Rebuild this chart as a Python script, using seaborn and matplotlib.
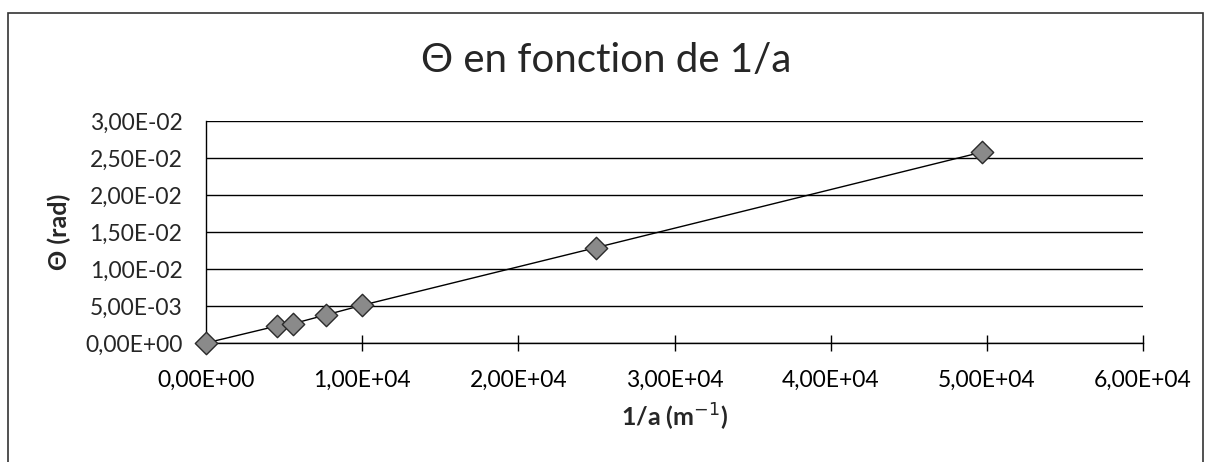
import matplotlib
matplotlib.use("Agg")
import matplotlib.pyplot as plt
from matplotlib.ticker import FuncFormatter
from matplotlib.patches import Rectangle
import seaborn as sns
import pandas as pd

# data
inv_a = [0, 4545, 5556, 7692, 10000, 25000, 49700]          # 1/a (m-1)
theta = [0, 2.3e-3, 2.6e-3, 3.8e-3, 5.1e-3, 1.29e-2, 2.58e-2]  # Theta (rad)
x_ticks = [0, 1e4, 2e4, 3e4, 4e4, 5e4, 6e4]
y_ticks = [0, 5e-3, 1e-2, 1.5e-2, 2e-2, 2.5e-2, 3e-2]

df = pd.DataFrame({"inv_a": inv_a, "theta": theta})

sns.set_style("white")
plt.rcParams['font.family'] = ['Lato', 'DejaVu Sans']

fig = plt.figure(figsize=(12.08, 4.62), dpi=100)
ax = fig.add_axes([206 / 1208, 1 - 343 / 462, (1143 - 206) / 1208, (343 - 121) / 462])

sns.lineplot(data=df, x="inv_a", y="theta", ax=ax, color="black", lw=1.0, sort=False)
sns.scatterplot(data=df, x="inv_a", y="theta", ax=ax, marker="D", s=130,
                color="#8a8a8a", edgecolor="#2a2a2a", linewidth=1.0, zorder=5)
for c in ax.collections:
    c.set_clip_on(False)

ax.set_xlim(0, 6e4)
ax.set_ylim(0, 3e-2)
ax.set_xticks(x_ticks)
ax.set_yticks(y_ticks)
fmt = FuncFormatter(lambda v, p: f"{v:.2E}".replace(".", ","))
ax.xaxis.set_major_formatter(fmt)
ax.yaxis.set_major_formatter(fmt)
ax.grid(axis="y", color="black", lw=1.0)
ax.set_axisbelow(True)
for s in ["top", "right"]:
    ax.spines[s].set_visible(False)
for s in ["left", "bottom"]:
    ax.spines[s].set_color("black")
    ax.spines[s].set_linewidth(1.0)
ax.tick_params(axis="x", direction="inout", length=12, width=1, colors="black",
               labelsize=16.5, pad=13, bottom=True)
ax.tick_params(axis="y", length=0, labelsize=16.5, pad=17, left=False)

ax.set_xlabel("1/a (m$^{-1}$)", fontsize=18, fontweight="bold", labelpad=8)
ax.set_ylabel("Θ (rad)", fontsize=18, fontweight="bold", labelpad=10)

fig.text(0.502, 1 - 60 / 462, "Θ en fonction de 1/a", ha="center", va="center", fontsize=29)

fig.patches.append(Rectangle((8 / 1208, -0.02), (1203 - 8) / 1208, 1.02 - 13 / 462,
                             transform=fig.transFigure, fill=False, ec="#333333", lw=1.2))

fig.savefig("out.png", dpi=100)
